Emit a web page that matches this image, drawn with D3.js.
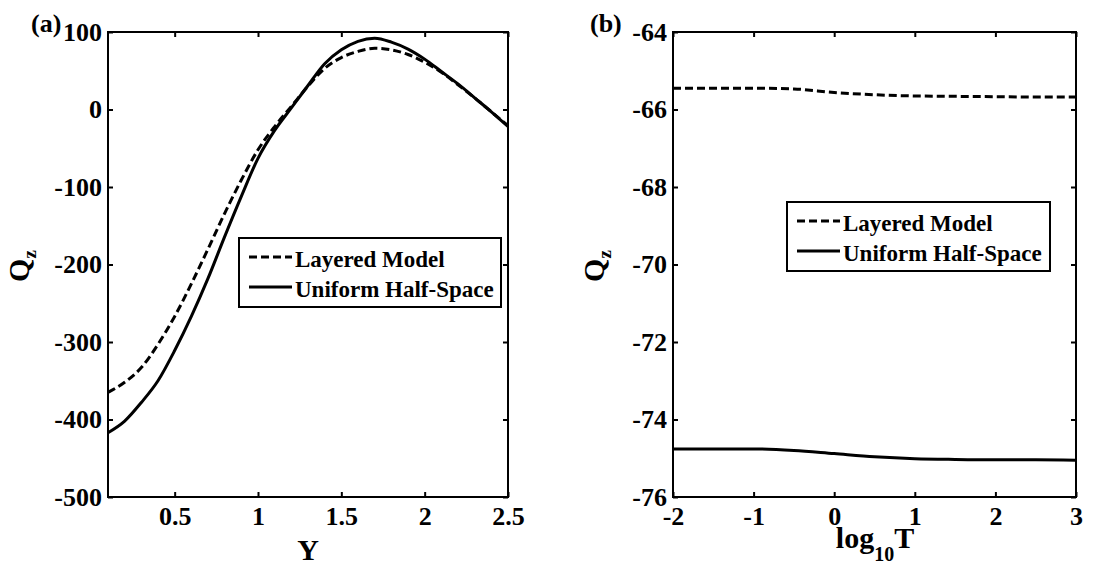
<html>
<head>
<meta charset="utf-8">
<style>
    body { margin:0; background:#fff; }
    svg text { font-family:"Liberation Serif", "Times New Roman", serif; font-weight:bold; fill:#000; }
</style>
</head>
<body>
<svg></svg>
<script src="https://d3js.org/d3.v7.min.js"></script>
<script>
    // panel (a): Qz against Y
    const yA = [0.1,0.2,0.3,0.4,0.5,0.6,0.7,0.8,0.9,1.0,1.1,1.2,1.3,1.4,1.5,1.6,1.7,1.8,1.9,2.0,2.1,2.2,2.3,2.4,2.5];
    const layeredA = [-365,-352,-333,-303,-267,-225,-180,-134,-91,-52,-22,4,30,53,67,75,79,77,71,61,48,32,15,-3,-21];
    const uniformA = [-417,-402,-378,-350,-311,-267,-218,-164,-112,-63,-27,2,31,59,77,88,92,87,78,65,49,33,15,-3,-22];
    const xTicksA = [0.5,1,1.5,2,2.5];
    const yTicksA = [-500,-400,-300,-200,-100,0,100];

    // panel (b): Qz against log10 T
    const logT = [-2,-1.5,-1,-0.5,0,0.5,1,1.5,2,2.5,3];
    const layeredB = [-65.45,-65.45,-65.45,-65.47,-65.56,-65.62,-65.65,-65.66,-65.67,-65.68,-65.68];
    const uniformB = [-74.76,-74.76,-74.76,-74.80,-74.88,-74.96,-75.01,-75.03,-75.04,-75.04,-75.05];
    const xTicksB = [-2,-1,0,1,2,3];
    const yTicksB = [-76,-74,-72,-70,-68,-66,-64];

    const legendNames = ["Layered Model", "Uniform Half-Space"];
    const dash = "8,4";
    const plain = d => String(d);   // keep the ascii hyphen like matlab does

    const width = 1116, height = 564;
    const svg = d3.select("svg").attr("width", width).attr("height", height);

    function panel(p) {
        const x = d3.scaleLinear().domain(p.xDomain).range([p.left, p.right]);
        const y = d3.scaleLinear().domain(p.yDomain).range([p.bottom, p.top]);
        const g = svg.append("g");

        // curves, dashed first then solid on top
        const path = d3.line().x((d, i) => x(p.xs[i])).y(d => y(d)).curve(d3.curveMonotoneX);
        g.append("path").attr("d", path(p.layered))
            .attr("fill", "none").attr("stroke", "#000").attr("stroke-width", 3)
            .attr("stroke-dasharray", dash);
        g.append("path").attr("d", path(p.uniform))
            .attr("fill", "none").attr("stroke", "#000").attr("stroke-width", 3);

        // axes: inward ticks on all four sides
        const ax = (axis, tx, ty, fmt) => {
            const a = g.append("g").attr("transform", `translate(${tx},${ty})`)
                .call(axis.tickSizeInner(-5).tickSizeOuter(0).tickFormat(fmt));
            a.select(".domain").remove();
            a.selectAll(".tick line").attr("stroke-width", 2);
            a.selectAll("text").attr("font-size", 26).attr("font-family", null);
            return a;
        };
        ax(d3.axisBottom(x).tickValues(p.xTicks).tickPadding(10), 0, p.bottom, plain);
        ax(d3.axisLeft(y).tickValues(p.yTicks).tickPadding(6), p.left, 0, plain);
        ax(d3.axisTop(x).tickValues(p.xTicks), 0, p.top, "");
        ax(d3.axisRight(y).tickValues(p.yTicks), p.right, 0, "");

        g.append("rect")
            .attr("x", p.left).attr("y", p.top)
            .attr("width", p.right - p.left).attr("height", p.bottom - p.top)
            .attr("fill", "none").attr("stroke", "#000").attr("stroke-width", 2);

        // legend
        const L = p.legend;
        g.append("rect").attr("x", L.x).attr("y", L.y).attr("width", L.w).attr("height", 69)
            .attr("fill", "#fff").attr("stroke", "#000").attr("stroke-width", 2);
        legendNames.forEach((name, i) => {
            const ly = L.y + 19 + i * 30;
            g.append("line")
                .attr("x1", L.x + 10).attr("x2", L.x + 53)
                .attr("y1", ly).attr("y2", ly)
                .attr("stroke", "#000").attr("stroke-width", 3)
                .attr("stroke-dasharray", i == 0 ? dash : null);
            g.append("text").attr("x", L.x + 56).attr("y", ly + 10)
                .attr("font-size", 23).text(name);
        });

        // y title Qz
        const qt = g.append("text")
            .attr("transform", `translate(${p.qx},266) rotate(-90)`)
            .attr("text-anchor", "middle");
        qt.append("tspan").attr("font-size", 30).text("Q");
        qt.append("tspan").attr("font-size", 19).attr("dy", 7).text("z");

        // panel tag
        g.append("text").attr("x", p.tagX).attr("y", 32).attr("font-size", 26).text(p.tag);
        return {g, x, y};
    }

    const a = panel({
        xs: yA, layered: layeredA, uniform: uniformA,
        xDomain: [0.1, 2.5], yDomain: [-500, 100],
        xTicks: xTicksA, yTicks: yTicksA,
        left: 108, right: 508, top: 32, bottom: 497,
        legend: {x: 239, y: 238, w: 262},
        qx: 29, tag: "(a)", tagX: 31
    });
    a.g.append("text").attr("x", 308).attr("y", 560)
        .attr("text-anchor", "middle").attr("font-size", 30).text("Y");

    const b = panel({
        xs: logT, layered: layeredB, uniform: uniformB,
        xDomain: [-2, 3], yDomain: [-76, -64],
        xTicks: xTicksB, yTicks: yTicksB,
        left: 673, right: 1076, top: 32, bottom: 497,
        legend: {x: 787, y: 202, w: 263},
        qx: 604, tag: "(b)", tagX: 590
    });
    const lt = b.g.append("text").attr("x", 875).attr("y", 548)
        .attr("text-anchor", "middle").attr("font-size", 30);
    lt.append("tspan").text("log");
    lt.append("tspan").attr("font-size", 20).attr("dy", 13).text("10");
    lt.append("tspan").attr("dy", -13).text("T");
</script>
</body>
</html>
